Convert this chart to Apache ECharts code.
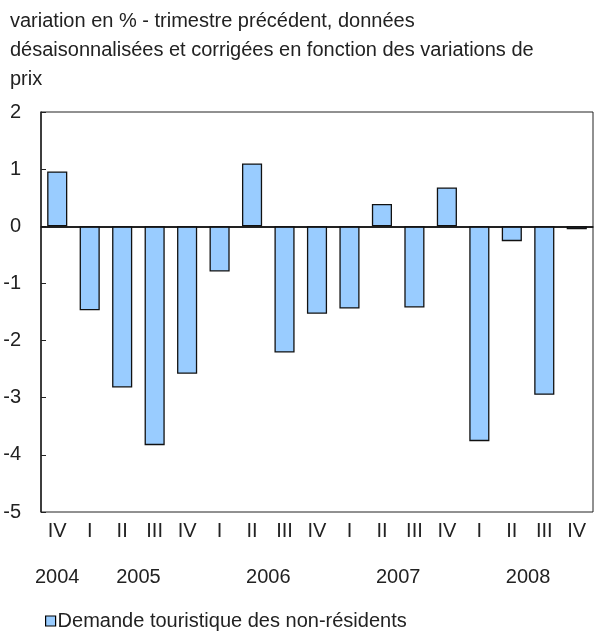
<!DOCTYPE html>
<html>
<head>
<meta charset="utf-8">
<script src="https://cdn.jsdelivr.net/npm/echarts@6/dist/echarts.min.js"></script>
<style>html,body{margin:0;padding:0;background:#fff}#c{width:596px;height:635px}</style>
</head>
<body>
<div id="c"></div>
<script>
var quarters = ['IV','I','II','III','IV','I','II','III','IV','I','II','III','IV','I','II','III','IV'];
var values = [0.96, -1.47, -2.82, -3.83, -2.58, -0.79, 1.10, -2.21, -1.53, -1.44, 0.39, -1.42, 0.68, -3.76, -0.26, -2.95, -0.05];
var years = ['2004','2005','2006','2007','2008'];
var quartersPerYear = [1, 4, 4, 4, 4];
var yTicks = { min: -5, max: 2, interval: 1 };
var seriesName = 'Demande touristique des non-résidents';
var titleText = 'variation en % - trimestre précédent, données\ndésaisonnalisées et corrigées en fonction des variations de\nprix';

// build half-category slots so year labels centre on their quarters
var slots = [];
for (var i = 0; i <= quarters.length * 2; i++) slots.push('');
var start = 0;
years.forEach(function (y, k) {
  slots[start * 2 + quartersPerYear[k]] = y;
  start += quartersPerYear[k];
});

var font = 'Liberation Sans, Arial, sans-serif';
var fs = 20;
var chart = echarts.init(document.getElementById('c'));
chart.setOption({
  animation: false,
  title: {
    text: titleText, left: 10, top: 7, padding: 0,
    textStyle: { fontFamily: font, fontSize: fs, fontWeight: 'normal', color: '#222', lineHeight: 29 }
  },
  legend: {
    left: 45, top: 611, padding: 0, icon: 'rect', itemWidth: 10, itemHeight: 10, itemGap: 4,
    data: [seriesName],
    itemStyle: { borderColor: '#000', borderWidth: 1.2 },
    textStyle: { fontFamily: font, fontSize: fs, color: '#222', padding: [0,0,0,-3] }
  },
  grid: { left: 41, right: 2, top: 112, bottom: 123, show: true, borderColor: '#222', borderWidth: 1, backgroundColor: 'transparent' },
  xAxis: [{
    type: 'category', data: quarters, position: 'bottom',
    axisLine: { lineStyle: { color: '#222', width: 1.5 } },
    axisTick: { inside: true, length: 5, lineStyle: { color: '#222' } },
    axisLabel: { interval: 0, margin: 9, fontFamily: font, fontSize: fs, color: '#222' }
  }, {
    type: 'category', data: slots, position: 'bottom', boundaryGap: false, offset: 47,
    axisLine: { show: false }, axisTick: { show: false },
    axisLabel: { interval: 0, margin: 8, fontFamily: font, fontSize: fs, color: '#222' }
  }],
  yAxis: {
    type: 'value', min: yTicks.min, max: yTicks.max, interval: yTicks.interval,
    axisLine: { show: true, lineStyle: { color: '#222', width: 1.5 } },
    axisTick: { show: true, inside: true, length: 5, lineStyle: { color: '#222' } },
    splitLine: { show: false },
    axisLabel: { margin: 20, fontFamily: font, fontSize: fs, color: '#222' }
  },
  series: [{
    name: seriesName, type: 'bar', data: values, xAxisIndex: 0,
    barCategoryGap: '38%',
    itemStyle: { color: '#99CCFF', borderColor: '#111', borderWidth: 1.3 },
    markLine: {
      silent: true, symbol: 'none', label: { show: false },
      lineStyle: { color: '#111', width: 1.5, type: 'solid' },
      data: [{ yAxis: 0 }]
    }
  }]
});
</script>
</body>
</html>
